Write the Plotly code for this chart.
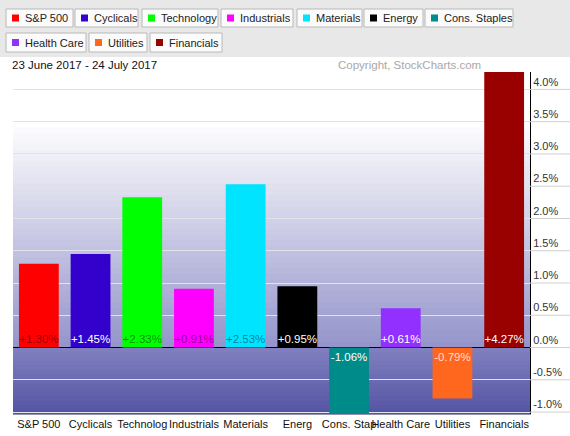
import plotly.graph_objects as go

# sector performance, 23 June 2017 - 24 July 2017
sectors = ["S&P 500", "Cyclicals", "Technology", "Industrials", "Materials",
           "Energy", "Cons. Staples", "Health Care", "Utilities", "Financials"]
tick_text = ["S&P 500", "Cyclicals", "Technolog", "Industrials", "Materials",
             "Energ", "Cons. Stap", "Health Care", "Utilities", "Financials"]
changes = [1.30, 1.45, 2.33, 0.91, 2.53, 0.95, -1.06, 0.61, -0.79, 4.27]
colors = ["#ff0000", "#3300cc", "#00ff00", "#ff00ff", "#00e4ff",
          "#000000", "#008b8b", "#9130ff", "#ff661e", "#990000"]
label_colors = ["rgba(0,0,0,0.45)", "white", "rgba(0,0,0,0.45)", "rgba(0,0,0,0.45)",
                "rgba(0,0,0,0.45)", "white", "white", "white",
                "rgba(255,255,255,0.8)", "white"]
y_ticks = [-1.0, -0.5, 0.0, 0.5, 1.0, 1.5, 2.0, 2.5, 3.0, 3.5, 4.0]

W, H = 570, 436
L, R, T, B = 13, 530, 72, 414
FONT = "Arial, Liberation Sans, sans-serif"


def px2x(px):
    return (px - L) / (R - L)


def py2y(py):
    return (B - py) / (B - T)


def mix(c0, c1, f):
    return "rgb(%d,%d,%d)" % tuple(round(a + (b - a) * f) for a, b in zip(c0, c1))


fig = go.Figure(go.Bar(
    x=tick_text, y=changes,
    marker=dict(color=colors, line=dict(width=0)),
    text=["%+.2f%%" % v for v in changes],
    textposition="inside", insidetextanchor="start", textangle=0,
    constraintext="none",
    textfont=dict(family=FONT, size=11.5, color=label_colors),
    hovertext=sectors, hoverinfo="text+y",
))

shapes = []
# gradient background: white above 3.5%, fading to blue towards zero and below
# (strips overlap a little so no seams show)
n = 40
step = 3.5 / n
for i in range(n):
    y0 = 3.5 - step * i
    shapes.append(dict(type="rect", xref="paper", yref="y", x0=0, x1=1,
                       y0=y0, y1=max(y0 - step * 1.6, 0),
                       fillcolor=mix((255, 255, 255), (148, 148, 202), (i + 0.5) / n),
                       line=dict(width=0), layer="below"))
m = 15
step = 1.03 / m
for i in range(m):
    y0 = -step * i
    shapes.append(dict(type="rect", xref="paper", yref="y", x0=0, x1=1,
                       y0=y0, y1=max(y0 - step * 1.6, -1.03),
                       fillcolor=mix((128, 128, 192), (84, 84, 164), (i + 0.5) / m),
                       line=dict(width=0), layer="below"))

# gridlines run on through the label area
for t in y_ticks:
    shapes.append(dict(type="line", xref="paper", yref="y", x0=1, x1=px2x(W), y0=t, y1=t,
                       line=dict(color="#d0d0d0", width=1)))

# legend strip
shapes.append(dict(type="rect", xref="paper", yref="paper",
                   x0=px2x(0), x1=px2x(W), y0=py2y(57), y1=py2y(0),
                   fillcolor="#e8e8e8", line=dict(width=0)))

annotations = []
legend_boxes = [(6, 73, 0), (75, 138, 0), (142, 218, 0), (221, 293, 0), (297, 362, 0),
                (364, 423, 0), (425, 513, 0), (6, 86, 1), (89, 147, 1), (150, 222, 1)]
rows = [(9, 27), (33, 52)]
for name, col, (bx0, bx1, r) in zip(sectors, colors, legend_boxes):
    by0, by1 = rows[r]
    shapes.append(dict(type="rect", xref="paper", yref="paper",
                       x0=px2x(bx0), x1=px2x(bx1), y0=py2y(by1), y1=py2y(by0),
                       fillcolor="#fbfbfb", line=dict(color="#b8b8b8", width=1)))
    cy = (by0 + by1) / 2
    shapes.append(dict(type="rect", xref="paper", yref="paper",
                       x0=px2x(bx0 + 6), x1=px2x(bx0 + 13), y0=py2y(cy + 3.5), y1=py2y(cy - 3.5),
                       fillcolor=col, line=dict(width=0)))
    annotations.append(dict(xref="paper", yref="paper", x=px2x(bx0 + 17), y=py2y(cy),
                            xanchor="left", yanchor="middle", showarrow=False, text=name,
                            font=dict(family=FONT, size=11, color="#222222")))

annotations.append(dict(xref="paper", yref="paper", x=px2x(10), y=py2y(65),
                        xanchor="left", yanchor="middle", showarrow=False,
                        text="23 June 2017 - 24 July 2017",
                        font=dict(family=FONT, size=11.5, color="#111111")))
annotations.append(dict(xref="paper", yref="paper", x=px2x(483), y=py2y(65),
                        xanchor="right", yanchor="middle", showarrow=False,
                        text="Copyright, StockCharts.com",
                        font=dict(family=FONT, size=11.5, color="#a8a8a8")))

fig.update_layout(
    width=W, height=H,
    margin=dict(l=L, r=W - R, t=T, b=H - B, pad=0, autoexpand=False),
    paper_bgcolor="white", plot_bgcolor="white",
    showlegend=False, bargap=0.23,
    font=dict(family=FONT, size=11, color="#222222"),
    shapes=shapes, annotations=annotations,
    xaxis=dict(showgrid=False, ticks="", showline=True, linecolor="#9090b0",
               tickangle=0, automargin=False,
               tickfont=dict(size=11, color="#111111"), fixedrange=True),
    yaxis=dict(side="right", range=[-1.03, 4.27], tickvals=y_ticks,
               ticktext=["%.1f%%" % t for t in y_ticks],
               ticklabelposition="outside top", ticklabelstandoff=0, automargin=False,
               showgrid=True, gridcolor="#e2e2ea", gridwidth=1,
               zeroline=True, zerolinecolor="black", zerolinewidth=1,
               showline=True, linecolor="black", linewidth=1, ticks="",
               tickfont=dict(size=11, color="#333333"), fixedrange=True),
)

fig.write_html("out.html", config={"displayModeBar": False},
               post_script="document.body.style.margin='0px';")
